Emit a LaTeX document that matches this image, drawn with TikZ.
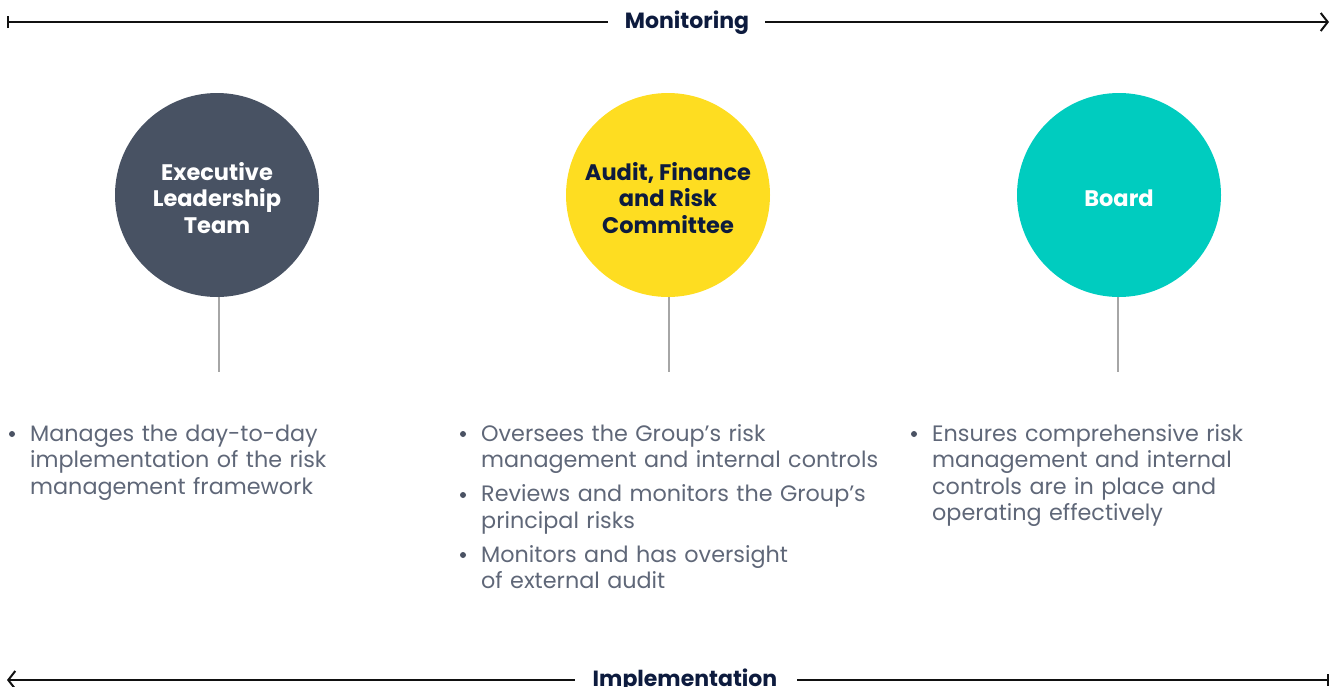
\documentclass[tikz,border=0pt]{standalone}
\usepackage{fontspec}
\setmainfont{Poppins}
\usetikzlibrary{arrows.meta}
\definecolor{navy}{HTML}{0D1B3E}
\definecolor{eltc}{HTML}{485263}
\definecolor{yel}{HTML}{FEDD21}
\definecolor{teal}{HTML}{00CCBF}
\definecolor{bodyc}{HTML}{5F6778}
\definecolor{dotc}{HTML}{4A5263}
\definecolor{stemc}{HTML}{A6A6A6}
\definecolor{arrc}{HTML}{111111}
\begin{document}
\begin{tikzpicture}[x=1pt,y=-1pt,
  axis/.style={line width=2pt,draw=arrc},
  axlabel/.style={font=\fontsize{22}{26}\selectfont\bfseries,text=navy,inner xsep=0pt,anchor=base},
  disc/.style={circle,minimum size=204pt,inner sep=0pt},
  disctext/.style={align=center,inner sep=0pt,font=\fontsize{22.5}{26.5}\selectfont\bfseries},
  stem/.style={line width=2.5pt,draw=stemc},
  item/.style={text width=420pt,align=left,anchor=base west,inner sep=0pt,
    text=bodyc,font=\fontsize{22.3}{26.6}\selectfont},
  dot/.style={circle,fill=dotc,minimum size=6pt,inner sep=0pt}]
\useasboundingbox (0,0) rectangle (1331,686);
\clip (0,0) rectangle (1331,686);
% axes
\coordinate (tl) at (7,22);
\coordinate (tr) at (1329,22);
\node[axlabel] (mon) at (687,28.5) {Monitoring};
\draw[axis,{Bar[width=12pt]}-] (tl) -- ([xshift=-17pt]mon.west |- tl);
\draw[axis,-{Straight Barb[length=7pt,width=18pt]}] ([xshift=16pt]mon.east |- tr) -- (tr);
\coordinate (bl) at (7,680);
\coordinate (br) at (1329,680);
\node[axlabel] (impl) at (685,686) {Implementation};
\draw[axis,{Straight Barb[length=7pt,width=18pt]}-] (bl) -- ([xshift=-18pt]impl.west |- bl);
\draw[axis,-{Bar[width=12pt]}] ([xshift=20pt]impl.east |- br) -- (br);
% circles and stems
\coordinate (s1) at (219,372);
\coordinate (s2) at (669,372);
\coordinate (s3) at (1118,372);
\node[disc,fill=eltc] (c1) at (217,195) {};
\node[disc,fill=yel] (c2) at (668,195) {};
\node[disc,fill=teal] (c3) at (1119,195) {};
\node[disctext,text=white] (l1) at ([yshift=-3pt]c1.center) {Executive\\Leadership\\Team};
\node[disctext,text=navy] (l2) at ([yshift=-3pt]c2.center) {Audit, Finance\\and Risk\\Committee};
\node[disctext,text=white] (l3) at ([yshift=-3pt]c3.center) {Board};
\draw[stem] (c1.south -| s1) -- (s1);
\draw[stem] (c2.south -| s2) -- (s2);
\draw[stem] (c3.south -| s3) -- (s3);
% column 1
\node[dot] (d1) at (12,434) {};
\node[item] (t1) at (30,441) {Manages the day-to-day\\implementation of the risk\\management framework};
% column 2
\node[dot] (d2) at (463,434) {};
\node[item] (t2) at (481,441) {Oversees the Group’s risk\\management and internal controls};
\node[dot] (d3) at (463,495) {};
\node[item] (t3) at (481,501.5) {Reviews and monitors the Group’s\\principal risks};
\node[dot] (d4) at (463,555) {};
\node[item] (t4) at (481,562) {Monitors and has oversight\\of external audit};
% column 3
\node[dot] (d5) at (914,434) {};
\node[item] (t5) at (932,441) {Ensures comprehensive risk\\management and internal\\controls are in place and\\operating effectively};
\end{tikzpicture}
\end{document}
